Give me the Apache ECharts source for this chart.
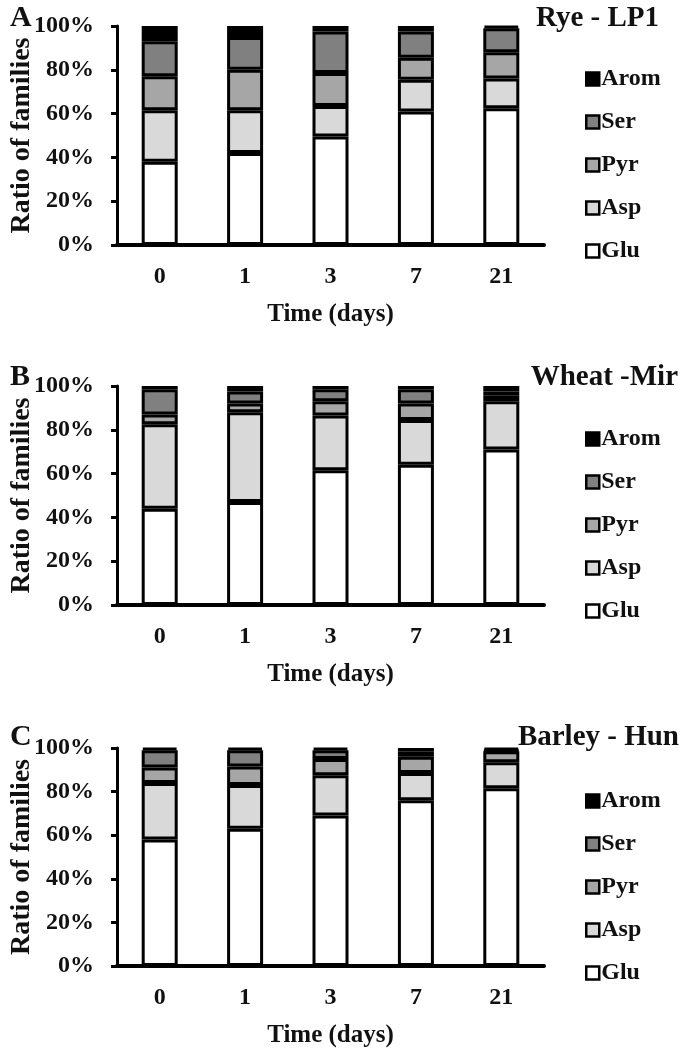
<!DOCTYPE html>
<html>
<head>
<meta charset="utf-8">
<script src="https://cdn.jsdelivr.net/npm/echarts@6/dist/echarts.min.js"></script>
<style>html,body{margin:0;padding:0;background:#fff}#c{width:685px;height:1050px}</style>
</head>
<body>
<div id="c"></div>
<script>
const days = ['0', '1', '3', '7', '21'];
const yTicks = ['0%', '20%', '40%', '60%', '80%', '100%'];
const families = ['Glu', 'Asp', 'Pyr', 'Ser', 'Arom'];
const legendOrder = ['Arom', 'Ser', 'Pyr', 'Asp', 'Glu'];
const panelLetters = ['A', 'B', 'C'];
const panelTitles = ['Rye - LP1', 'Wheat -Mir', 'Barley - Hun'];

// Panel A: Rye - LP1
const ryeGlu  = [38, 42, 49.5, 61, 62.5];
const ryeAsp  = [23.5, 19.5, 14, 14.5, 13.5];
const ryePyr  = [15.5, 18.5, 15, 10, 12];
const ryeSer  = [16, 15, 19, 12, 11];
const ryeArom = [7, 5, 2.5, 2.5, 1];

// Panel B: Wheat - Mir
const wheatGlu  = [44, 47, 61.5, 64, 71];
const wheatAsp  = [38.5, 41, 25, 20.5, 22];
const wheatPyr  = [4.5, 4, 6.5, 7.5, 2.5];
const wheatSer  = [11.5, 5.5, 5.5, 6.5, 2];
const wheatArom = [1.5, 2.5, 1.5, 1.5, 2.5];

// Panel C: Barley - Hun
const barleyGlu  = [58, 63, 69, 76, 81.5];
const barleyAsp  = [26, 20, 18.5, 12.5, 12];
const barleyPyr  = [7, 8.5, 7.5, 7.5, 5];
const barleySer  = [8, 7.5, 4, 2.5, 0.5];
const barleyArom = [1, 1, 1, 1.5, 1];

const panels = [
  [ryeGlu, ryeAsp, ryePyr, ryeSer, ryeArom],
  [wheatGlu, wheatAsp, wheatPyr, wheatSer, wheatArom],
  [barleyGlu, barleyAsp, barleyPyr, barleySer, barleyArom]
];

const colors = { Glu: '#ffffff', Asp: '#d9d9d9', Pyr: '#a6a6a6', Ser: '#808080', Arom: '#000000' };
const FONT = "'Liberation Serif', 'Times New Roman', serif";
const TXT = '#111';

const gridTops = [26, 386, 748];
const gridHeights = [219, 219, 218];
const legendTops = [62, 422, 784];
const titleTops = [4, 363, 723];

const grid = [], xAxis = [], yAxis = [], series = [], legend = [], title = [];
panels.forEach((vals, p) => {
  grid.push({ left: 117, width: 427, top: gridTops[p], height: gridHeights[p], containLabel: false, outerBoundsMode: 'none' });
  xAxis.push({
    type: 'category', gridIndex: p, data: days,
    axisLine: { lineStyle: { color: '#000', width: 4 } },
    axisTick: { show: false },
    axisLabel: { color: TXT, fontFamily: FONT, fontWeight: 'bold', fontSize: 24, margin: 20 },
    name: 'Time (days)', nameLocation: 'middle', nameGap: 57, nameMoveOverlap: false,
    nameTextStyle: { color: TXT, fontFamily: FONT, fontWeight: 'bold', fontSize: 25 }
  });
  yAxis.push({
    type: 'value', gridIndex: p, min: 0, max: 100, interval: 20,
    axisLine: { show: true, lineStyle: { color: '#000', width: 3 } },
    axisTick: { show: true, length: 6, lineStyle: { color: '#000', width: 3 } },
    splitLine: { show: false },
    axisLabel: {
      color: TXT, fontFamily: FONT, fontWeight: 'bold', fontSize: 24, margin: 23,
      formatter: (v) => yTicks[Math.round(v / 20)]
    },
    name: 'Ratio of families', nameLocation: 'middle', nameGap: 81, nameRotate: 90, nameMoveOverlap: false,
    nameTextStyle: { color: TXT, fontFamily: FONT, fontWeight: 'bold', fontSize: 28 }
  });
  families.forEach((f, i) => {
    series.push({
      name: f, type: 'bar', stack: 'p' + p, xAxisIndex: p, yAxisIndex: p,
      data: vals[i], barWidth: 36,
      itemStyle: { color: colors[f], borderColor: '#000', borderWidth: 3 },
      emphasis: { disabled: true }
    });
  });
  legend.push({
    orient: 'vertical', left: 580, top: legendTops[p], data: legendOrder,
    icon: 'rect', itemWidth: 13, itemHeight: 13, itemGap: 19,
    itemStyle: { borderColor: '#000', borderWidth: 2.5 },
    textStyle: { color: TXT, fontFamily: FONT, fontWeight: 'bold', fontSize: 24, lineHeight: 24, padding: [0, 0, 0, -3] },
    selectedMode: false
  });
  title.push({
    text: panelLetters[p], left: 10, top: titleTops[p] - 1, padding: 0,
    textStyle: { color: TXT, fontFamily: FONT, fontWeight: 'bold', fontSize: 30 }
  });
  title.push({
    text: panelTitles[p], right: 6 + [20, 1, 0][p], top: titleTops[p], padding: 0,
    textStyle: { color: TXT, fontFamily: FONT, fontWeight: 'bold', fontSize: 29 }
  });
});

const chart = echarts.init(document.getElementById('c'), null, { renderer: 'canvas' });
chart.setOption({ animation: false, backgroundColor: '#fff', title, grid, xAxis, yAxis, series, legend });
</script>
</body>
</html>
